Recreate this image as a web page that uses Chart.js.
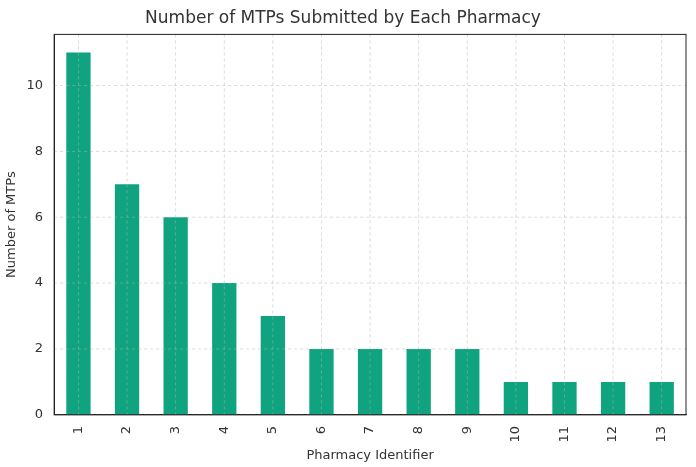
<!DOCTYPE html>
<html>
<head>
<script src="https://cdn.jsdelivr.net/npm/chart.js@4"></script>
<style>
  body { margin: 0; background: #fff; }
</style>
</head>
<body>
<canvas id="c" width="696" height="467"></canvas>
<script>
const pharmacies = ['1', '2', '3', '4', '5', '6', '7', '8', '9', '10', '11', '12', '13'];
const mtpCounts = [11, 7, 6, 4, 3, 2, 2, 2, 2, 1, 1, 1, 1];

const font = { family: 'DejaVu Sans', size: 13 };
const dashedGrid = {
    id: 'dashedGrid',
    // draw grid above bars like the reference
    afterDatasetsDraw(chart) {
        const { ctx, chartArea, scales } = chart;
        ctx.save();
        ctx.strokeStyle = 'rgba(180,180,180,0.6)';
        ctx.lineWidth = 0.8;
        ctx.setLineDash([3, 3]);
        scales.y.ticks.forEach(t => {
            const y = scales.y.getPixelForValue(t.value);
            ctx.beginPath(); ctx.moveTo(chartArea.left, y); ctx.lineTo(chartArea.right, y); ctx.stroke();
        });
        pharmacies.forEach((p, i) => {
            const x = scales.x.getPixelForValue(i);
            ctx.beginPath(); ctx.moveTo(x, chartArea.top); ctx.lineTo(x, chartArea.bottom); ctx.stroke();
        });
        ctx.setLineDash([]);
        ctx.strokeStyle = '#222';
        ctx.lineWidth = 1;
        ctx.strokeRect(chartArea.left, chartArea.top, chartArea.right - chartArea.left, chartArea.bottom - chartArea.top);
        ctx.restore();
    }
};

new Chart(document.getElementById('c'), {
    type: 'bar',
    data: {
        labels: pharmacies,
        datasets: [{
            data: mtpCounts,
            backgroundColor: '#10a37f',
            categoryPercentage: 1,
            barPercentage: 0.5
        }]
    },
    plugins: [dashedGrid],
    options: {
        responsive: false,
        animation: false,
        devicePixelRatio: 1,
        layout: { padding: { right: 10, top: 0 } },
        plugins: {
            legend: { display: false },
            tooltip: { enabled: false },
            title: {
                display: true,
                text: 'Number of MTPs Submitted by Each Pharmacy',
                color: '#333',
                font: { family: 'DejaVu Sans', size: 17, weight: 'normal' },
                padding: { top: 8, bottom: 6 }
            }
        },
        scales: {
            x: {
                grid: { display: false },
                border: { color: '#222' },
                ticks: { color: '#333', font, maxRotation: 90, minRotation: 90 },
                title: { display: true, text: 'Pharmacy Identifier', color: '#333', font, padding: { top: 2 } }
            },
            y: {
                min: 0,
                max: 11.55,
                grid: { display: false },
                border: { color: '#222' },
                ticks: { stepSize: 2, color: '#333', font, callback: v => (v % 2 === 0 ? v : '') },
                title: { display: true, text: 'Number of MTPs', color: '#333', font }
            }
        }
    }
});
</script>
</body>
</html>
